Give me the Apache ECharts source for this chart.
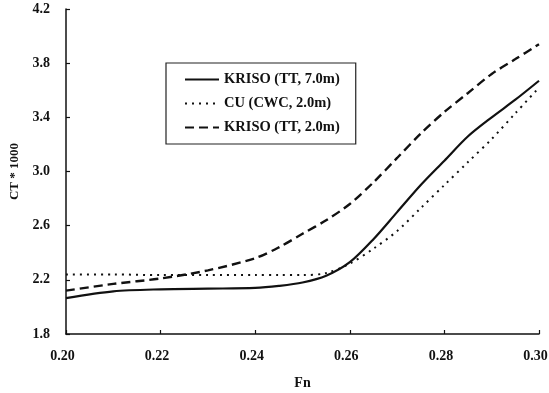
<!DOCTYPE html>
<html><head><meta charset="utf-8">
<script src="https://cdn.jsdelivr.net/npm/echarts@6/dist/echarts.min.js"></script>
<style>html,body{margin:0;padding:0;background:#fff}#c{width:549px;height:393px}</style>
</head><body><div id="c"></div>
<script>
const fn = [0.20,0.21,0.22,0.23,0.24,0.245,0.25,0.255,0.26,0.265,0.27,0.275,0.28,0.285,0.29,0.295,0.30];
const krisoTT7 = [2.065,2.115,2.13,2.135,2.14,2.155,2.18,2.23,2.33,2.50,2.70,2.90,3.08,3.26,3.40,3.53,3.67];
const cuCWC2   = [2.24,2.24,2.235,2.235,2.235,2.235,2.235,2.25,2.32,2.43,2.56,2.73,2.90,3.07,3.24,3.43,3.62];
const krisoTT2 = [2.12,2.17,2.21,2.27,2.36,2.44,2.54,2.64,2.76,2.92,3.10,3.28,3.44,3.58,3.72,3.83,3.94];
const xTicks = [0.20,0.22,0.24,0.26,0.28,0.30];
const yTicks = [1.8,2.2,2.6,3.0,3.4,3.8,4.2];
const names = ['KRISO (TT, 7.0m)','CU (CWC, 2.0m)','KRISO (TT, 2.0m)'];

const font = 'Liberation Serif';
function pairs(ys){ return fn.map((x,i)=>[x,ys[i]]); }
const chart = echarts.init(document.getElementById('c'));
chart.setOption({
  animation:false,
  backgroundColor:'#fff',
  grid:{left:66,right:10,top:9,bottom:59,containLabel:false,outerBoundsMode:'none'},
  legend:{
    orient:'vertical', left:166, top:63,
    padding:[9,16,9,18], itemGap:9, itemWidth:34, itemHeight:12,
    borderColor:'#222', borderWidth:1.2,
    data:names,
    itemStyle:{opacity:0},
    textStyle:{fontFamily:font,fontWeight:'bold',fontSize:14.5,color:'#111'}
  },
  xAxis:{
    type:'value', min:0.20, max:0.30, interval:0.02,
    name:'Fn', nameLocation:'middle', nameGap:42,
    nameTextStyle:{fontFamily:font,fontWeight:'bold',fontSize:14,color:'#111'},
    axisLine:{lineStyle:{color:'#111',width:1.5}},
    axisTick:{inside:true,length:4,lineStyle:{color:'#111',width:1.2}},
    axisLabel:{fontFamily:font,fontWeight:'bold',fontSize:14,color:'#111',margin:15,
      padding:[0,7,0,0], formatter:v=>v.toFixed(2)},
    splitLine:{show:false}
  },
  yAxis:{
    type:'value', min:1.8, max:4.2, interval:0.4,
    name:'CT * 1000', nameLocation:'middle', nameGap:44, nameRotate:90,
    nameTextStyle:{fontFamily:font,fontWeight:'bold',fontSize:13,color:'#111'},
    axisLine:{show:true,lineStyle:{color:'#111',width:1.5}},
    axisTick:{show:true,inside:true,length:4,lineStyle:{color:'#111',width:1.2}},
    axisLabel:{fontFamily:font,fontWeight:'bold',fontSize:14,color:'#111',margin:16,
      formatter:v=>v.toFixed(1)},
    splitLine:{show:false}
  },
  series:[
    {name:names[0],type:'line',data:pairs(krisoTT7),smooth:0.3,symbol:'none',
     lineStyle:{color:'#111',width:2.2,type:'solid'},itemStyle:{color:'#111'}},
    {name:names[1],type:'line',data:pairs(cuCWC2),smooth:0.3,symbol:'none',
     lineStyle:{color:'#111',width:2,type:[2,5]},itemStyle:{color:'#111'}},
    {name:names[2],type:'line',data:pairs(krisoTT2),smooth:0.3,symbol:'none',
     lineStyle:{color:'#111',width:2.4,type:[9,5]},itemStyle:{color:'#111'}}
  ]
});
</script></body></html>
